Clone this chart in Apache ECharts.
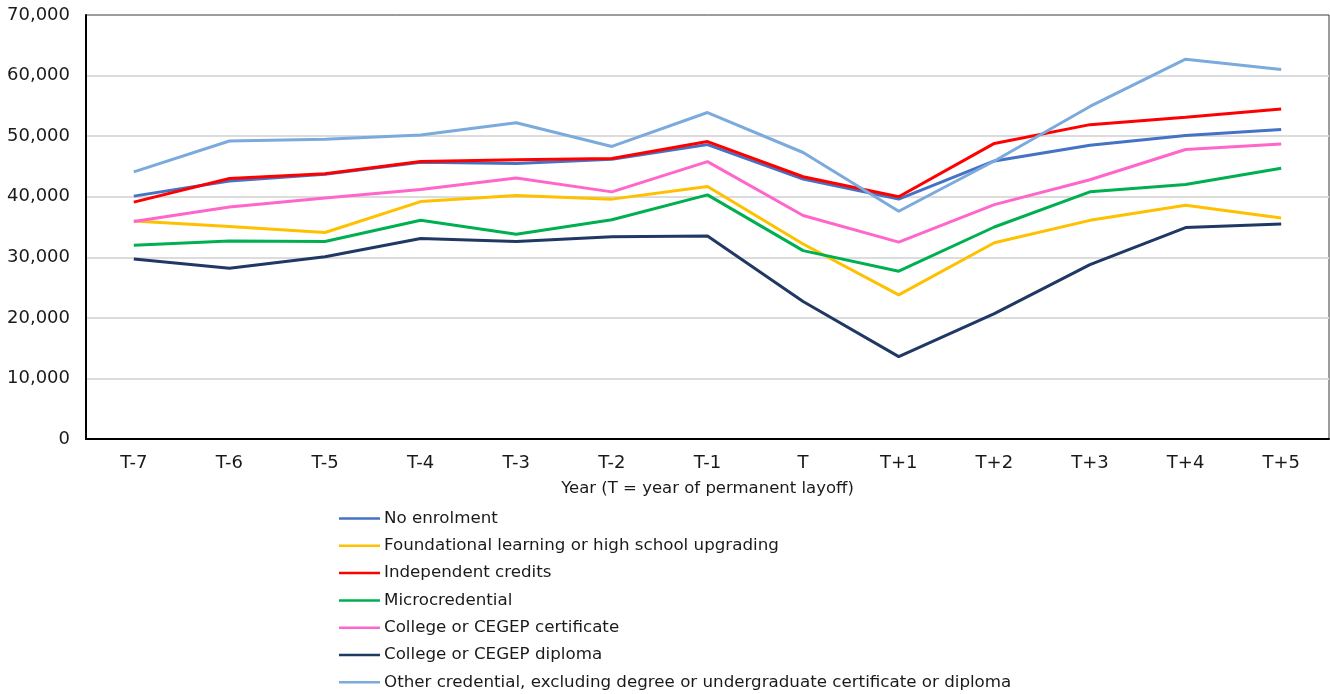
<!DOCTYPE html>
<html>
<head>
<meta charset="utf-8">
<script src="https://cdn.jsdelivr.net/npm/echarts@6/dist/echarts.min.js"></script>
<style>
  html, body { margin: 0; padding: 0; background: #fff; }
  #chart { width: 1330px; height: 694px; }
</style>
</head>
<body>
<div id="chart"></div>
<script>
// categories (years relative to layoff)
var years = ['T-7', 'T-6', 'T-5', 'T-4', 'T-3', 'T-2', 'T-1', 'T', 'T+1', 'T+2', 'T+3', 'T+4', 'T+5'];

// series values
var noEnrolment   = [40100, 42600, 43700, 45700, 45500, 46200, 48600, 42900, 39600, 45900, 48500, 50100, 51100];
var foundational  = [36000, 35100, 34100, 39200, 40200, 39600, 41700, 32200, 23800, 32400, 36100, 38600, 36500];
var independent   = [39100, 43000, 43800, 45800, 46100, 46300, 49100, 43300, 40000, 48800, 51900, 53100, 54500];
var microcred     = [32000, 32700, 32600, 36100, 33800, 36200, 40300, 31100, 27700, 35000, 40800, 42000, 44700];
var collegeCert   = [35900, 38300, 39800, 41200, 43100, 40800, 45800, 36900, 32500, 38700, 42800, 47800, 48700];
var collegeDipl   = [29700, 28200, 30100, 33100, 32600, 33400, 33500, 22700, 13600, 20700, 28800, 34900, 35500];
var otherCred     = [44100, 49200, 49500, 50200, 52200, 48300, 53900, 47300, 37600, 45900, 54900, 62700, 61000];

var seriesNames = [
  'No enrolment',
  'Foundational learning or high school upgrading',
  'Independent credits',
  'Microcredential',
  'College or CEGEP certificate',
  'College or CEGEP diploma',
  'Other credential, excluding degree or undergraduate certificate or diploma'
];
var seriesData = [noEnrolment, foundational, independent, microcred, collegeCert, collegeDipl, otherCred];
var colors = ['#4472C4', '#FFC000', '#FF0000', '#00B050', '#FF66CC', '#203864', '#7BAADC'];

var chart = echarts.init(document.getElementById('chart'));

var series = seriesNames.map(function (name, i) {
  return {
    name: name,
    type: 'line',
    data: seriesData[i],
    symbol: 'none',
    lineStyle: { color: colors[i], width: 3 },
    itemStyle: { color: colors[i] },
    z: 10 + i
  };
});

var font = 'DejaVu Sans';
var textColor = '#1a1a1a';

chart.setOption({
  animation: false,
  color: colors,
  grid: {
    left: 86,
    right: 1,
    top: 15,
    bottom: 255,
    show: true,
    borderColor: '#3a3a3a',
    borderWidth: 1
  },
  legend: {
    orient: 'vertical',
    left: 339,
    top: 510,
    padding: 0,
    icon: 'rect',
    itemWidth: 41,
    itemHeight: 2.5,
    itemGap: 10.3,
    textStyle: { fontFamily: font, fontSize: 16.7, color: textColor, padding: [0, 0, 0, -1] },
    data: seriesNames
  },
  xAxis: {
    type: 'category',
    data: years,
    boundaryGap: true,
    name: 'Year (T = year of permanent layoff)',
    nameLocation: 'middle',
    nameGap: 41,
    nameTextStyle: { fontFamily: font, fontSize: 16.5, color: textColor },
    axisLine: { lineStyle: { color: '#000', width: 2 } },
    axisTick: { inside: true, length: 5, lineStyle: { color: '#000', width: 1 } },
    axisLabel: { fontFamily: font, fontSize: 18, color: textColor, margin: 15 }
  },
  yAxis: {
    type: 'value',
    min: 0,
    max: 70000,
    interval: 10000,
    axisLine: { show: true, lineStyle: { color: '#000', width: 2 } },
    axisTick: { show: false },
    splitLine: { showMaxLine: false, lineStyle: { color: '#dcdcdc', width: 2 } },
    axisLabel: {
      fontFamily: font,
      fontSize: 18,
      color: textColor,
      margin: 16,
      formatter: function (v) { return v.toLocaleString('en-US'); }
    }
  },
  series: series
});
</script>
</body>
</html>
